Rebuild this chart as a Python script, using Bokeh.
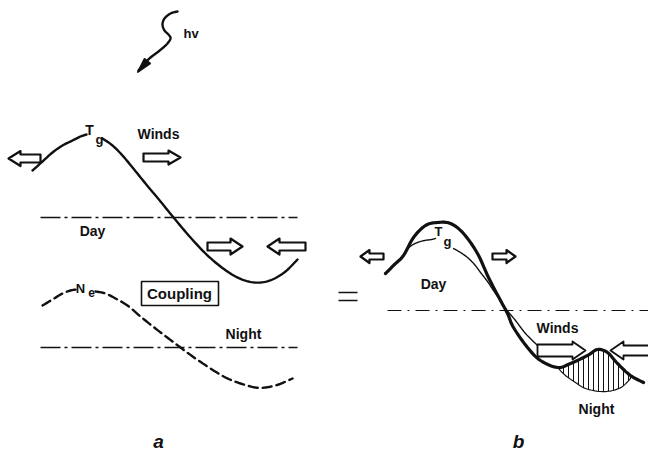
import numpy as np
from bokeh.plotting import figure
from bokeh.models import Range1d
from bokeh.core.properties import value
from bokeh.embed import file_html
from bokeh.resources import INLINE

# ---- traced curves (page units, y grows downward) ----
# panel a: neutral temperature Tg (solid)
tg_a_x1 = [32, 42, 52, 62, 72, 80, 86]
tg_a_y1 = [170, 161, 152, 145, 140, 136, 134]
tg_a_x2 = [102, 112, 122, 132, 145, 160, 173, 190, 205, 220, 235, 248, 260, 272, 285, 297]
tg_a_y2 = [138, 145, 155, 167, 183, 201, 217, 237, 253, 266, 276, 281, 282, 279, 271, 259]
# panel a: electron density Ne (dashed)
ne_a_x1 = [42, 52, 62, 70, 76]
ne_a_y1 = [305, 299, 293, 290, 289]
ne_a_x2 = [95, 105, 115, 127, 140, 155, 168, 180, 195, 210, 225, 240, 255, 265, 278, 292]
ne_a_y2 = [291, 293, 298, 305, 316, 328, 338, 347, 358, 368, 377, 383, 387, 387, 384, 378]
# panel b: resultant profile (thick)
res_b_x = [385, 394, 403, 413, 425, 437, 450, 463, 477, 488, 500, 507, 513, 527, 540, 557, 570, 587, 597, 607, 617, 630, 643]
res_b_y = [273, 264, 255, 237, 225, 222, 223, 233, 253, 277, 300, 313, 327, 347, 360, 367, 363, 355, 349, 352, 363, 375, 382]
# panel b: Tg profile (thin)
tg_b_x1 = [405, 411, 417, 424, 431, 435]
tg_b_y1 = [250, 245, 242, 240, 239, 238]
tg_b_x2 = [453, 460, 467, 474, 480, 487, 493, 500, 505, 515, 525, 537]
tg_b_y2 = [248, 252, 257, 264, 272, 281, 290, 300, 308, 320, 333, 345]
# panel b: hatched night region, lower boundary
hat_low_x = [557, 565, 575, 585, 600, 612, 622, 630]
hat_low_y = [367, 375, 382, 388, 391, 390, 386, 378]
# hv photon squiggle
hv_x = [177, 170, 164, 162, 164, 168, 170, 166, 158, 150, 143, 138]
hv_y = [11, 13, 18, 24, 30, 34, 38, 44, 51, 57, 64, 70]

# ---- labels ----
labels = ["Winds", "Day", "Night", "Coupling", "Day", "Winds", "Night"]
label_x = [158, 92, 243, 179, 433, 557, 596]
label_y = [133, 230, 333, 293, 283, 327, 408]
label_size = ["14px", "14px", "14px", "15px", "14px", "14px", "14px"]

W, H = 648, 462
p = figure(width=W, height=H, output_backend="svg", toolbar_location=None,
           x_range=Range1d(0, W), y_range=Range1d(H, 0), min_border=0)
p.axis.visible = False
p.grid.visible = False
p.outline_line_color = None
p.background_fill_color = "white"
p.border_fill_color = "white"

INK = "#111111"
FONT = value("Liberation Sans")


def smooth(xs, ys, n=8):
    """Catmull-Rom path through the traced points, for a smooth stroke."""
    pts = np.column_stack([xs, ys]).astype(float)
    pts = np.vstack([pts[0], pts, pts[-1]])
    out = []
    t = np.linspace(0, 1, n, endpoint=False)[:, None]
    for i in range(1, len(pts) - 2):
        p0, p1, p2, p3 = pts[i - 1], pts[i], pts[i + 1], pts[i + 2]
        seg = 0.5 * ((2 * p1) + (-p0 + p2) * t + (2 * p0 - 5 * p1 + 4 * p2 - p3) * t ** 2
                     + (-p0 + 3 * p1 - 3 * p2 + p3) * t ** 3)
        out.append(seg)
    out.append(pts[-2][None, :])
    out = np.vstack(out)
    return out[:, 0], out[:, 1]


def curve(xs, ys, **kw):
    sx, sy = smooth(xs, ys)
    p.line(sx, sy, line_join="round", line_cap="round", **kw)


def block_arrow(x0, x1, yc, body=7, head=15, head_len=None, lw=2.2):
    """Hollow block arrow from x0 (tail) to x1 (tip)."""
    d = 1 if x1 > x0 else -1
    hl = head_len if head_len else abs(x1 - x0) * 0.38
    xb = x1 - d * hl
    xs = [x0, xb, xb, x1, xb, xb, x0]
    ys = [yc - body / 2, yc - body / 2, yc - head / 2, yc, yc + head / 2, yc + body / 2, yc + body / 2]
    p.patch(xs, ys, fill_color="white", line_color=INK, line_width=lw, line_join="round")


# panel a curves
curve(tg_a_x1, tg_a_y1, line_color=INK, line_width=2.4)
curve(tg_a_x2, tg_a_y2, line_color=INK, line_width=2.4)
curve(ne_a_x1, ne_a_y1, line_color=INK, line_width=2.4, line_dash="9 5")
curve(ne_a_x2, ne_a_y2, line_color=INK, line_width=2.4, line_dash="9 5")

# reference levels
p.line([40, 297], [217, 217], line_color=INK, line_width=1.3, line_dash="20 4 3 4")
p.line([40, 297], [347, 347], line_color=INK, line_width=1.3, line_dash="20 4 3 4")
p.line([387, 648], [310, 310], line_color=INK, line_width=1.2, line_dash="14 6 2 6")

# wind arrows, panel a
block_arrow(40, 8, 158, body=8, head=15, head_len=12)
block_arrow(143, 180, 157, body=8, head=14, head_len=12)
block_arrow(207, 242, 246, body=8, head=16, head_len=12)
block_arrow(305, 267, 246, body=8, head=16, head_len=12)

# hatched night region, panel b (top follows the resultant curve)
rsx, rsy = smooth(res_b_x, res_b_y)
top_x = np.linspace(557, 630, 40)
top_y = np.interp(top_x, rsx, rsy)
lsx, lsy = smooth(hat_low_x, hat_low_y)
hx = list(top_x) + list(lsx[::-1])
hy = list(top_y) + list(lsy[::-1])
p.patch(hx, hy, fill_color="white", line_color=INK, line_width=1.2,
        hatch_pattern="|", hatch_color=INK, hatch_scale=5, hatch_weight=1.0)

# panel b curves
curve(tg_b_x1, tg_b_y1, line_color=INK, line_width=1.4)
curve(tg_b_x2, tg_b_y2, line_color=INK, line_width=1.4)
curve(res_b_x, res_b_y, line_color=INK, line_width=3.2)

# wind arrows, panel b
block_arrow(383, 360, 256, body=6, head=13, head_len=9)
block_arrow(492, 515, 256, body=6, head=13, head_len=9)
block_arrow(537, 585, 350, body=12, head=18, head_len=13, lw=1.8)
block_arrow(652, 610, 350, body=10, head=18, head_len=13, lw=1.8)

# photon
curve(hv_x, hv_y, line_color=INK, line_width=2.4)
p.patch([137, 150, 144], [72, 63, 58], fill_color=INK, line_color=INK, line_width=1.5)
p.text([183], [33], text=["hv"], text_font=FONT, text_font_style="bold",
       text_font_size="13px", text_color=INK, text_align="left", text_baseline="middle")

# "Coupling" box
p.quad(left=[141], right=[218], top=[281], bottom=[305], fill_color="white",
       line_color=INK, line_width=1.6)

# text labels
for t, x, y, s in zip(labels, label_x, label_y, label_size):
    p.text([x], [y], text=[t], text_font=FONT, text_font_style="bold", text_font_size=s,
           text_color=INK, text_align="center", text_baseline="middle")

# subscripted symbols
sym = [("T", 89, 129, "14px"), ("g", 99, 139, "13px"), ("N", 80, 288, "13px"), ("e", 91, 292, "12px"),
       ("T", 438, 231, "13px"), ("g", 447, 241, "13px")]
for t, x, y, s in sym:
    p.text([x], [y], text=[t], text_font=FONT, text_font_style="bold", text_font_size=s,
           text_color=INK, text_align="center", text_baseline="middle")

# equals sign between panels
p.line([338, 357], [292, 292], line_color=INK, line_width=1.5)
p.line([338, 357], [300, 300], line_color=INK, line_width=1.5)

# panel letters
for t, x in (("a", 158), ("b", 518)):
    p.text([x], [441], text=[t], text_font=FONT, text_font_style="bold italic",
           text_font_size="19px", text_color=INK, text_align="center", text_baseline="middle")

open("out.html", "w").write(file_html(p, INLINE))
